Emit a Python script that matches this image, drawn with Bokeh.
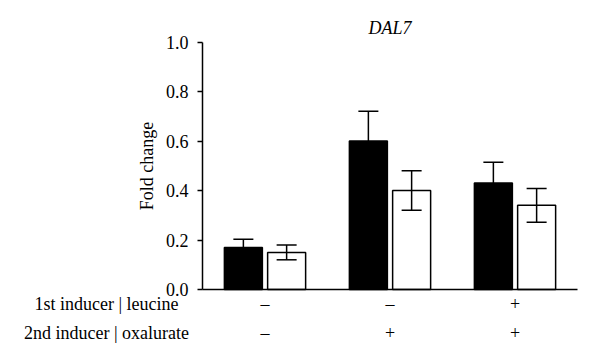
from bokeh.plotting import figure
from bokeh.models import (Range1d, ColumnDataSource, FixedTicker,
                          PrintfTickFormatter, Label, LabelSet)
from bokeh.transform import dodge
from bokeh.embed import file_html
from bokeh.resources import INLINE

# ---- data ----
groups = ["g1", "g2", "g3"]
leucine = ["\u2013", "\u2013", "+"]
oxalurate = ["\u2013", "+", "+"]
black_mean = [0.17, 0.60, 0.43]
black_err = [0.033, 0.12, 0.084]
white_mean = [0.15, 0.40, 0.34]
white_err = [0.03, 0.08, 0.068]
y_ticks = [0.0, 0.2, 0.4, 0.6, 0.8, 1.0]
row_labels = ["1st inducer | leucine", "2nd inducer | oxalurate"]
title_text = "DAL7"
y_label = "Fold change"

FONT = "Liberation Serif"
FS = "18px"

xi = list(range(len(groups)))
src = ColumnDataSource(dict(
    xi=xi, g=groups, leu=leucine, oxa=oxalurate,
    bm=black_mean, btop=[m + e for m, e in zip(black_mean, black_err)],
    wm=white_mean,
    wlo=[m - e for m, e in zip(white_mean, white_err)],
    whi=[m + e for m, e in zip(white_mean, white_err)],
))

W_PX, H_PX = 584, 346
# pixel layout: group spacing 125px, first group centre at 264.5px;
# y=0 at 289px, 247.5px per unit
x_range = Range1d(-264.5 / 125, (W_PX - 264.5) / 125)
y_range = Range1d(-(H_PX - 289) / 247.5, 289 / 247.5)

p = figure(width=W_PX, height=H_PX, x_range=x_range, y_range=y_range,
           output_backend="svg", toolbar_location=None, title_location=None,
           min_border=0)
p.outline_line_color = None
p.xgrid.grid_line_color = None
p.ygrid.grid_line_color = None
p.background_fill_color = "white"
p.border_fill_color = "white"

OFF = 0.173
W = 0.304
CAP = 0.08
LW = 1.5

xb = dodge("xi", -OFF, range=p.x_range)
xw = dodge("xi", OFF, range=p.x_range)

p.vbar(x=xb, top="bm", bottom=0, width=W, source=src,
       fill_color="black", line_color="black", line_width=LW)
p.vbar(x=xw, top="wm", bottom=0, width=W, source=src,
       fill_color="white", line_color="black", line_width=LW)

# error bars
p.segment(x0=xb, y0="bm", x1=xb, y1="btop", source=src, line_color="black", line_width=LW)
p.segment(x0=dodge("xi", -OFF - CAP, range=p.x_range), y0="btop",
          x1=dodge("xi", -OFF + CAP, range=p.x_range), y1="btop",
          source=src, line_color="black", line_width=LW)
p.segment(x0=xw, y0="wlo", x1=xw, y1="whi", source=src, line_color="black", line_width=LW)
for col in ("wlo", "whi"):
    p.segment(x0=dodge("xi", OFF - CAP, range=p.x_range), y0=col,
              x1=dodge("xi", OFF + CAP, range=p.x_range), y1=col,
              source=src, line_color="black", line_width=LW)

# axes
left_edge = xi[0] - 0.5
right_edge = xi[-1] + 0.5

ya = p.yaxis[0]
ya.fixed_location = left_edge
ya.bounds = (y_ticks[0], y_ticks[-1])
ya.ticker = FixedTicker(ticks=y_ticks)
ya.formatter = PrintfTickFormatter(format="%.1f")
ya.minor_tick_line_color = None
ya.major_tick_out = 5
ya.major_tick_in = 0
ya.axis_line_width = LW
ya.major_tick_line_width = LW
ya.major_label_text_font = FONT
ya.major_label_text_font_size = FS
ya.major_label_text_color = "black"
ya.major_label_standoff = 9
ya.axis_label = y_label
ya.axis_label_text_font = FONT
ya.axis_label_text_font_size = FS
ya.axis_label_text_font_style = "normal"
ya.axis_label_text_color = "black"
ya.axis_label_standoff = 6

xa = p.xaxis[0]
xa.fixed_location = 0
xa.bounds = (left_edge, right_edge)
xa.ticker = FixedTicker(ticks=[])
xa.major_tick_line_color = None
xa.minor_tick_line_color = None
xa.axis_line_width = LW

# title
p.add_layout(Label(x=xi[1], y=(289 - 27.5) / 247.5, text=title_text,
                   text_font=FONT, text_font_size=FS, text_font_style="italic",
                   text_align="center", text_baseline="middle", text_color="black"))

# condition rows
ROW_Y = [-(303 - 289) / 247.5, -(332 - 289) / 247.5]
ROW_X = (106 - 264.5) / 125
for lab, y in zip(row_labels, ROW_Y):
    p.add_layout(Label(x=ROW_X, y=y, text=lab,
                       text_font=FONT, text_font_size=FS, text_align="center",
                       text_baseline="middle", text_color="black"))
for col, y in zip(("leu", "oxa"), ROW_Y):
    p.add_layout(LabelSet(x="xi", y=y, text=col, source=src,
                          text_font=FONT, text_font_size=FS, text_align="center",
                          text_baseline="middle", text_color="black"))

open("out.html", "w").write(file_html(p, INLINE))
